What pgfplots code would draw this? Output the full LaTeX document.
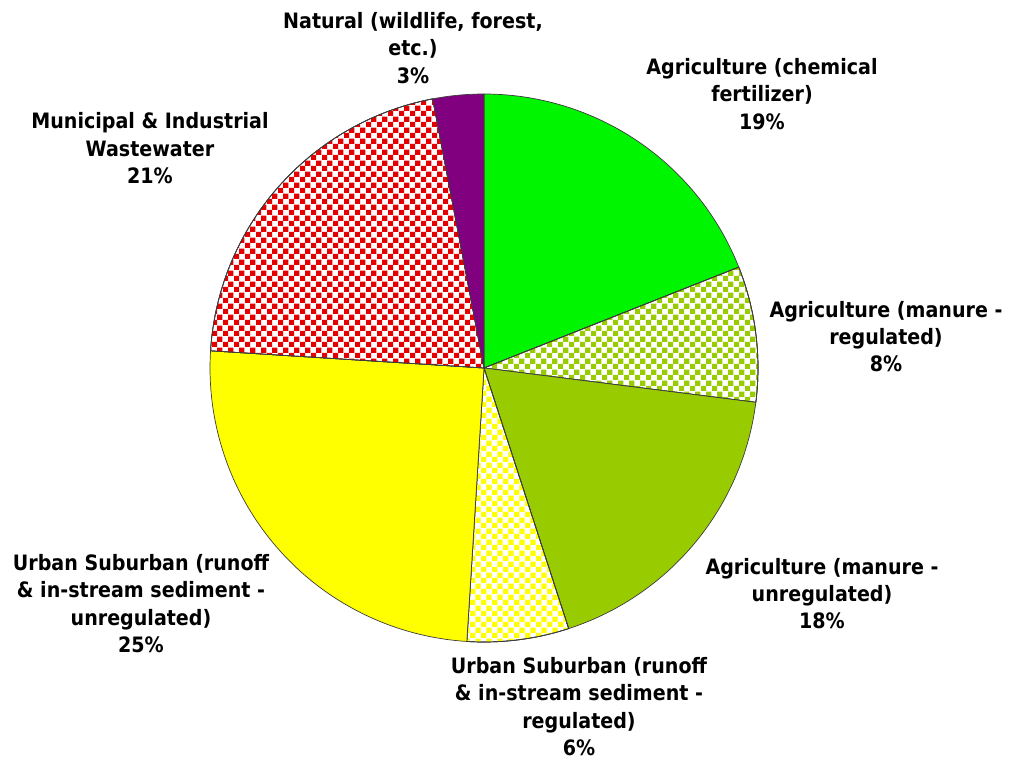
\documentclass[border=0pt]{standalone}
\usepackage{pgfplots}
\pgfplotsset{compat=1.18}
\usepgfplotslibrary{polar}
\usetikzlibrary{patterns}
\usepackage{fontspec}
\setmainfont{DejaVu Sans Condensed}
\definecolor{cgreen}{RGB}{0,245,0}
\definecolor{colive}{RGB}{153,204,0}
\definecolor{cyellow}{RGB}{255,255,0}
\definecolor{cred}{RGB}{228,0,0}
\definecolor{cpurple}{RGB}{128,0,128}
\definecolor{cedge}{RGB}{60,60,60}
\pgfdeclarepatternformonly{mycheck}{\pgfqpoint{0pt}{0pt}}{\pgfqpoint{5.6pt}{5.6pt}}{\pgfqpoint{5.6pt}{5.6pt}}{%
  \pgfpathrectangle{\pgfqpoint{0pt}{0pt}}{\pgfqpoint{2.8pt}{2.8pt}}%
  \pgfpathrectangle{\pgfqpoint{2.8pt}{2.8pt}}{\pgfqpoint{2.8pt}{2.8pt}}%
  \pgfusepath{fill}}
\begin{document}
\begin{tikzpicture}
\useasboundingbox (0,0) rectangle (505pt,380pt);
\begin{polaraxis}[
  at={(242pt,196pt)}, anchor=origin,
  scale only axis, width=274pt, height=274pt,
  xmin=0, xmax=360, ymin=0, ymax=1,
  hide axis, clip=false,
  every axis plot/.append style={draw=cedge, line width=0.35pt, samples=90},
]
% Agriculture (chemical fertilizer) 19% -> 68.4 deg
\addplot[fill=cgreen, domain=21.6:90] {1} -- (axis cs:0,0) -- cycle;
% Agriculture (manure - regulated) 8% -> 28.8 deg
\addplot[fill=white, postaction={pattern=mycheck, pattern color=colive}, domain=-7.2:21.6] {1} -- (axis cs:0,0) -- cycle;
\addplot[fill=none, domain=-7.2:21.6] {1} -- (axis cs:0,0) -- cycle;
% Agriculture (manure - unregulated) 18% -> 64.8 deg
\addplot[fill=colive, domain=-72:-7.2] {1} -- (axis cs:0,0) -- cycle;
% Urban Suburban regulated 6% -> 21.6 deg
\addplot[fill=white, postaction={pattern=mycheck, pattern color=cyellow}, domain=-93.6:-72] {1} -- (axis cs:0,0) -- cycle;
\addplot[fill=none, domain=-93.6:-72] {1} -- (axis cs:0,0) -- cycle;
% Urban Suburban unregulated 25% -> 90 deg
\addplot[fill=cyellow, domain=-183.6:-93.6] {1} -- (axis cs:0,0) -- cycle;
% Municipal & Industrial Wastewater 21% -> 75.6 deg
\addplot[fill=white, postaction={pattern=mycheck, pattern color=cred}, domain=100.8:176.4] {1} -- (axis cs:0,0) -- cycle;
\addplot[fill=none, domain=100.8:176.4] {1} -- (axis cs:0,0) -- cycle;
% Natural 3% -> 10.8 deg
\addplot[fill=cpurple, domain=90:100.8] {1} -- (axis cs:0,0) -- cycle;
\end{polaraxis}
\begin{scope}[every node/.style={align=center, inner sep=0pt, font=\fontsize{10.6}{13.7}\selectfont\bfseries}]
\node at (206.5pt,356pt) {Natural (wildlife, forest,\\etc.)\\3\%};
\node at (381pt,333pt) {Agriculture (chemical\\fertilizer)\\19\%};
\node at (75pt,305.8pt) {Municipal \& Industrial\\Wastewater\\21\%};
\node at (443pt,211.75pt) {Agriculture (manure -\\regulated)\\8\%};
\node at (411pt,83.25pt) {Agriculture (manure -\\unregulated)\\18\%};
\node at (70.5pt,78.25pt) {Urban Suburban (runoff\\\& in-stream sediment -\\unregulated)\\25\%};
\node at (289.5pt,26.75pt) {Urban Suburban (runoff\\\& in-stream sediment -\\regulated)\\6\%};
\end{scope}
\end{tikzpicture}
\end{document}
